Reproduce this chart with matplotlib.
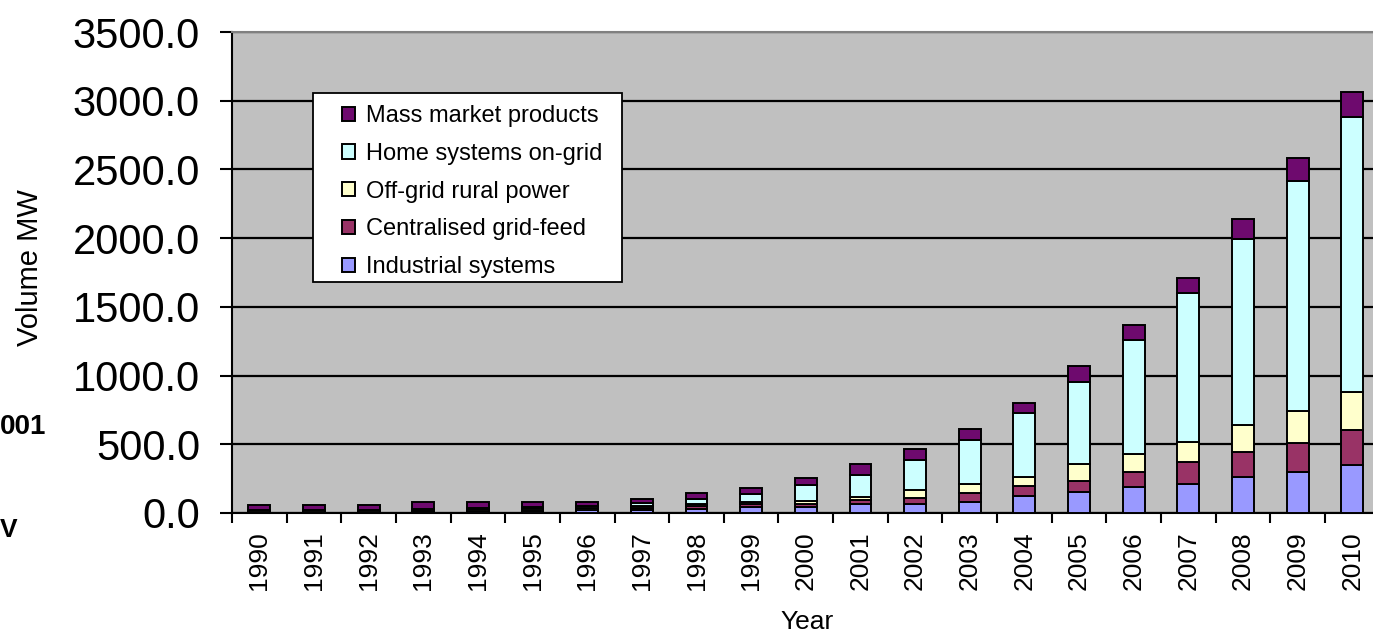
import matplotlib.pyplot as plt
import numpy as np
from matplotlib.patches import Rectangle
from matplotlib.ticker import FormatStrFormatter, MultipleLocator

# data (MW per year)
years = [str(y) for y in range(1990, 2011)]

industrial = [8, 8, 8, 10, 12, 18, 20, 25, 30, 44, 44, 63, 63, 80, 124, 155, 192, 211, 264, 296, 349]
centralised = [1, 1, 1, 3, 3, 4, 5, 15, 20, 20, 25, 30, 46, 66, 73, 78, 109, 163, 182, 216, 255]
offgrid = [10, 10, 10, 12, 14, 14, 15, 10, 15, 15, 20, 25, 61, 68, 67, 124, 129, 145, 195, 233, 279]
home_grid = [2, 2, 2, 3, 4, 6, 8, 20, 40, 60, 115, 155, 214, 316, 462, 599, 829, 1080, 1352, 1674, 1997]
mass_market = [34, 34, 34, 50, 45, 38, 32, 35, 38, 41, 48, 86, 80, 78, 77, 114, 110, 109, 145, 163, 187]

series = [
    ("Industrial systems", industrial, "#9999FF"),
    ("Centralised grid-feed", centralised, "#993366"),
    ("Off-grid rural power", offgrid, "#FFFFCC"),
    ("Home systems on-grid", home_grid, "#CCFFFF"),
    ("Mass market products", mass_market, "#6E0A6E"),
]

plt.rcParams['font.family'] = ['Liberation Sans', 'DejaVu Sans']

W, H = 1373, 636
fig = plt.figure(figsize=(W / 100, H / 100), dpi=100)
ax = fig.add_axes([232 / W, 1 - 513 / H, 1147.6 / W, 481 / H])
ax.set_facecolor("#C0C0C0")

x = np.arange(len(years))
bottom = np.zeros(len(years))
handles = []
for name, vals, col in series:
    vals = np.array(vals, dtype=float)
    b = ax.bar(x, vals, width=0.4, bottom=bottom, color=col,
               edgecolor="black", linewidth=1.4, label=name, zorder=3)
    handles.append(b)
    bottom += vals

ax.set_xlim(-0.5, len(years) - 0.5)
ax.set_ylim(0, 3500)
ax.yaxis.set_major_locator(MultipleLocator(500))
ax.yaxis.set_major_formatter(FormatStrFormatter("%.1f"))
ax.grid(axis="y", color="black", linewidth=1.6, zorder=1)

ax.set_xticks(x)
ax.set_xticklabels(years, rotation=90, fontsize=19)
ax.set_xticks(np.arange(-0.5, len(years), 1), minor=True)
ax.tick_params(axis="x", which="major", length=0, pad=13)
ax.tick_params(axis="x", which="minor", length=7, width=1.5, direction="out")
ax.tick_params(axis="y", length=9, width=1.5, direction="out", labelsize=30, pad=14)

for s in ["left", "bottom"]:
    ax.spines[s].set_color("black")
    ax.spines[s].set_linewidth(1.5)
ax.spines["top"].set_color("#808080")
ax.spines["top"].set_linewidth(1.5)
ax.spines["right"].set_visible(False)

fig.text(30 / W, 1 - 268 / H, "Volume MW", rotation=90, ha="center", va="center", fontsize=21)
fig.text(807 / W, 1 - 622 / H, "Year", ha="center", va="center", fontsize=19)

# stray fragments at the left edge of the picture
fig.text(0, 1 - 427 / H, "001", ha="left", va="center", fontsize=20, fontweight="bold")
fig.text(0, 1 - 530 / H, "V", ha="left", va="center", fontsize=19, fontweight="bold")

# legend box drawn separately so the inner padding can match
box = Rectangle((313 / W, 1 - 282 / H), (622 - 313) / W, (282 - 93) / H,
                transform=fig.transFigure, facecolor="white", edgecolor="black",
                linewidth=1.3, zorder=4)
fig.patches.append(box)

leg = fig.legend(handles[::-1], [s[0] for s in series][::-1],
                 loc="upper left", bbox_to_anchor=(342 / W, 1 - 105 / H),
                 fontsize=17, frameon=False, borderpad=0, borderaxespad=0,
                 handlelength=0.55, handleheight=0.55, handletextpad=0.45,
                 labelspacing=0.67)
leg.set_zorder(5)

fig.savefig("out.png", dpi=100)
